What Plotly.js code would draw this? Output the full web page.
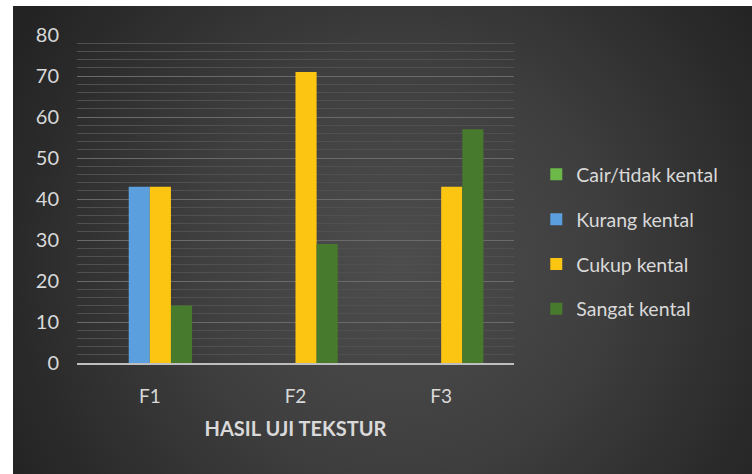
<!DOCTYPE html>
<html>
<head>
<meta charset="utf-8">
<script src="https://cdn.plot.ly/plotly-3.0.1.min.js"></script>
<style>
  html, body { margin: 0; padding: 0; background: #ffffff; width: 752px; height: 474px; overflow: hidden; }
  #chart {
    position: absolute; left: 13px; top: 6px; width: 739px; height: 468px;
    background: radial-gradient(ellipse 60% 95% at 52% 55%, #4d4d4d 0%, #3f3f3f 45%, #2a2a2a 85%, #232323 100%);
  }
</style>
</head>
<body>
<div id="chart"></div>
<script>
const categories = ["F1", "F2", "F3"];
const seriesNames = ["Cair/tidak kental", "Kurang kental", "Cukup kental", "Sangat kental"];
const cairTidakKental = [0, 0, 0];
const kurangKental = [43, 0, 0];
const cukupKental = [43, 71, 43];
const sangatKental = [14, 29, 57];
const yTickValues = [0, 10, 20, 30, 40, 50, 60, 70, 80];
const xAxisTitle = "HASIL UJI TEKSTUR";

const colors = ["#6cb94a", "#5b9fde", "#fcc512", "#477a2c"];
const values = [cairTidakKental, kurangKental, cukupKental, sangatKental];

const traces = values.map((v, i) => ({
  type: "bar",
  name: seriesNames[i],
  legendgroup: "g" + i,
  x: categories,
  y: v,
  marker: { color: colors[i], line: { width: 0 } },
  hoverinfo: "skip"
}));

const layout = {
  width: 739,
  height: 468,
  margin: { l: 64, r: 238, t: 29, b: 111 },
  paper_bgcolor: "rgba(0,0,0,0)",
  plot_bgcolor: "rgba(0,0,0,0)",
  barmode: "group",
  bargap: 0.42,
  bargroupgap: 0,
  font: { family: "Lato, 'Open Sans', sans-serif", color: "#d9d9d9", size: 19 },
  showlegend: true,
  legend: {
    x: 1.051, xanchor: "left", xref: "paper",
    y: 0.37, yanchor: "middle",
    traceorder: "grouped",
    font: { size: 19.5, color: "#d9d9d9" },
    itemwidth: 30,
    tracegroupgap: 16.5,
    bgcolor: "rgba(0,0,0,0)"
  },
  xaxis: {
    tickvals: categories,
    showgrid: false,
    showline: true,
    linecolor: "#bfbfbf",
    linewidth: 2,
    ticks: "",
    ticklabelstandoff: 15,
    tickfont: { size: 19, color: "#d9d9d9" },
    title: { text: xAxisTitle, font: { size: 20, color: "#d9d9d9", weight: "bold" }, standoff: 16 },
    zeroline: false
  },
  yaxis: {
    range: [0, 80],
    tickvals: yTickValues,
    showgrid: true,
    gridcolor: "#6a6a6a",
    gridwidth: 1,
    minor: { dtick: 2, showgrid: true, gridcolor: "#505050", gridwidth: 1 },
    showline: false,
    zeroline: false,
    ticks: "",
    ticklabelstandoff: 17,
    tickfont: { size: 20, color: "#d9d9d9" }
  }
};

Plotly.newPlot("chart", traces, layout, { displayModeBar: false, staticPlot: true });
</script>
</body>
</html>
